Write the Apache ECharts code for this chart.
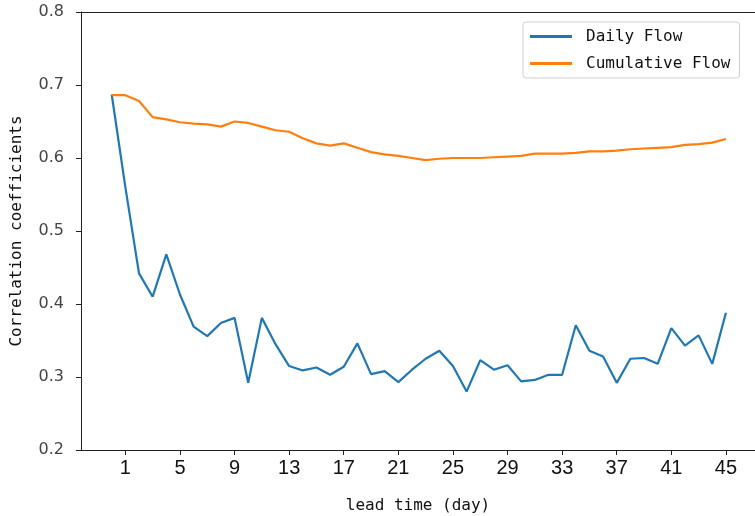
<!DOCTYPE html>
<html>
<head>
<meta charset="utf-8">
<style>
  html, body { margin: 0; padding: 0; background: #fff; }
  #chart { width: 755px; height: 516px; }
</style>
<script src="https://cdn.jsdelivr.net/npm/echarts@6/dist/echarts.min.js"></script>
</head>
<body>
<div id="chart"></div>
<script>
// Lead times in days
const leadTimes = [0,1,2,3,4,5,6,7,8,9,10,11,12,13,14,15,16,17,18,19,20,21,22,23,24,25,26,27,28,29,30,31,32,33,34,35,36,37,38,39,40,41,42,43,44,45];

// Correlation coefficients of daily flow
const dailyFlow = [0.687,0.56,0.442,0.410,0.468,0.413,0.369,0.356,0.374,0.381,0.292,0.381,0.345,0.315,0.309,0.313,0.303,0.314,0.346,0.304,0.308,0.293,0.310,0.325,0.336,0.315,0.280,0.323,0.310,0.316,0.294,0.296,0.303,0.303,0.371,0.336,0.328,0.292,0.325,0.326,0.318,0.367,0.343,0.357,0.318,0.388];

// Correlation coefficients of cumulative flow
const cumulativeFlow = [0.686,0.686,0.678,0.656,0.653,0.649,0.647,0.646,0.643,0.650,0.648,0.643,0.638,0.636,0.627,0.620,0.617,0.620,0.614,0.608,0.605,0.603,0.600,0.597,0.599,0.600,0.600,0.600,0.601,0.602,0.603,0.606,0.606,0.606,0.607,0.609,0.609,0.610,0.612,0.613,0.614,0.615,0.618,0.619,0.621,0.626];

// Tick labels
const xTicks = [1,5,9,13,17,21,25,29,33,37,41,45];
const yTicks = [0.2,0.3,0.4,0.5,0.6,0.7,0.8];

const toPairs = (vals) => vals.map((v, i) => [leadTimes[i], v]);

const axisColor = '#222';
const mono = 'DejaVu Sans Mono';
const chart = echarts.init(document.getElementById('chart'), null, { renderer: 'canvas' });

chart.setOption({
  animation: false,
  backgroundColor: '#fff',
  grid: { left: 81, right: 0, top: 12, bottom: 66, containLabel: false, outerBoundsMode: 'none' },
  legend: {
    orient: 'vertical',
    left: 523,
    top: 22,
    padding: [5, 9, 5, 7],
    itemGap: 8,
    itemWidth: 42,
    itemHeight: 3,
    borderColor: '#cfcfcf',
    borderWidth: 1,
    borderRadius: 3,
    icon: 'rect',
    textStyle: { fontFamily: mono, fontSize: 16, lineHeight: 19, color: '#111', padding: [0, 0, 0, 9] },
    data: ['Daily Flow', 'Cumulative Flow']
  },
  xAxis: [
    {
      type: 'value',
      min: -2.25,
      max: 47.13,
      name: 'lead time (day)',
      nameLocation: 'middle',
      nameGap: 48,
      nameTextStyle: { fontFamily: mono, fontSize: 16, color: '#111' },
      axisLine: { show: true, onZero: false, lineStyle: { color: axisColor, width: 1 } },
      axisTick: { show: true, length: 5, inside: false, customValues: xTicks, lineStyle: { color: axisColor } },
      axisLabel: {
        customValues: xTicks,
        margin: 8,
        fontFamily: 'Liberation Sans Narrow, Liberation Sans, sans-serif',
        fontSize: 20,
        color: '#111'
      },
      splitLine: { show: false }
    },
    {
      type: 'value',
      position: 'top',
      min: -2.25,
      max: 47.13,
      axisLine: { show: true, onZero: false, lineStyle: { color: axisColor, width: 1 } },
      axisTick: { show: false },
      axisLabel: { show: false },
      splitLine: { show: false }
    }
  ],
  yAxis: {
    type: 'value',
    min: 0.2,
    max: 0.8,
    interval: 0.1,
    name: 'Correlation coefficients',
    nameLocation: 'middle',
    nameGap: 56,
    nameTextStyle: { fontFamily: mono, fontSize: 16, color: '#111' },
    axisLine: { show: true, onZero: false, lineStyle: { color: axisColor, width: 1 } },
    axisTick: { show: true, length: 5, inside: false, lineStyle: { color: axisColor } },
    axisLabel: {
      customValues: yTicks,
      margin: 17,
      fontFamily: 'DejaVu Sans, sans-serif',
      fontSize: 16,
      color: '#444',
      formatter: (v) => v.toFixed(1)
    },
    splitLine: { show: false }
  },
  series: [
    {
      name: 'Daily Flow',
      type: 'line',
      data: toPairs(dailyFlow),
      showSymbol: false,
      color: '#1f77b4',
      lineStyle: { width: 2.2, color: '#1f77b4' }
    },
    {
      name: 'Cumulative Flow',
      type: 'line',
      data: toPairs(cumulativeFlow),
      showSymbol: false,
      color: '#ff7f0e',
      lineStyle: { width: 2.2, color: '#ff7f0e' }
    }
  ]
});
</script>
</body>
</html>
